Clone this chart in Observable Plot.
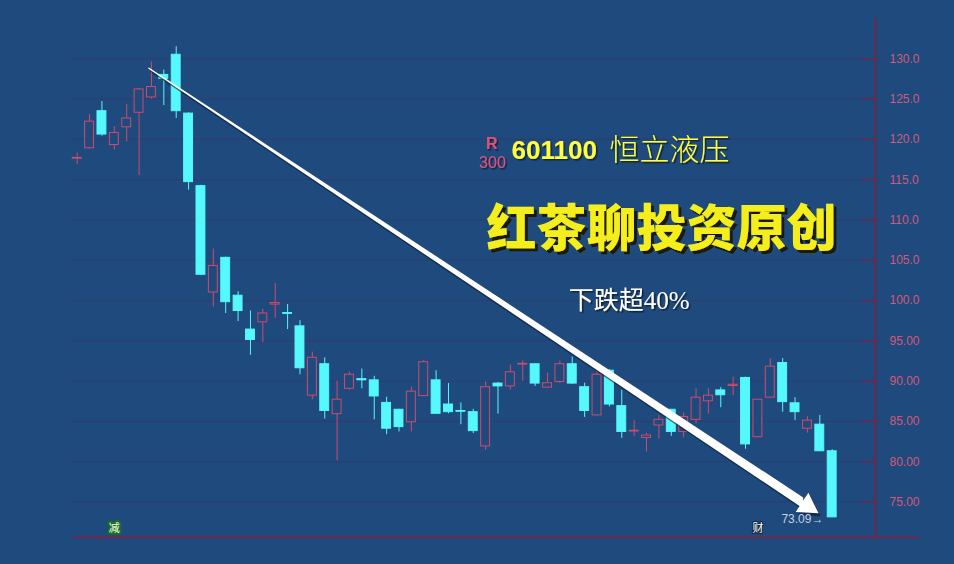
<!DOCTYPE html>
<html><head><meta charset="utf-8">
<script src="https://cdn.jsdelivr.net/npm/d3@7"></script>
<script src="https://cdn.jsdelivr.net/npm/@observablehq/plot@0.6"></script>
<style>
html,body{margin:0;padding:0;background:#1e4a7d;overflow:hidden;}
</style></head><body><div id="chart"></div>
<script>
// ---- data (daily candles, 601100 恒立液压) ----
const opens  = [117.6,118.9,123.5,119.3,121.5,123.3,125.2,128.0,130.5,123.2,114.2,101.0,105.3,100.6,96.4,97.3,99.5,98.45,96.8,88.2,92.1,85.9,89.05,90.25,90.1,87.3,86.45,84.9,88.15,90.1,87.1,86.3,86.15,81.9,89.7,89.35,92.05,92.1,89.2,89.9,92.1,89.25,85.75,91.3,86.9,83.75,82.95,84.5,86.45,83.7,85.2,87.5,88.85,89.4,90.4,83.05,87.95,92.25,87.25,84.1,84.6,81.3];
const highs  = [118.3,123.1,124.7,121.6,124.3,126.3,129.6,128.6,131.5,123.3,114.3,106.4,105.4,101.1,98.7,98.9,102.1,99.5,97.5,93.6,92.9,90.0,91.1,91.5,90.6,88.0,86.5,89.25,92.6,91.3,89.7,87.3,86.5,89.9,89.85,92.0,92.5,92.15,91.0,92.5,93.0,89.75,91.25,91.4,88.85,85.1,83.55,85.75,86.5,86.05,89.05,89.05,89.2,90.5,90.5,87.7,92.8,92.8,87.95,85.6,85.75,81.5];
const lows   = [116.9,118.8,120.4,118.7,119.7,115.5,125.0,124.2,122.6,113.7,103.1,99.2,98.4,97.4,93.2,94.8,97.8,96.4,90.8,87.7,85.3,80.1,88.9,89.05,85.2,83.35,83.7,83.7,88.1,85.9,85.95,84.6,83.5,81.4,85.9,88.9,90.0,89.35,89.15,89.7,89.6,85.5,85.7,86.8,82.9,83.1,81.2,82.85,83.15,82.95,84.7,85.9,86.7,88.2,81.55,83.0,87.9,86.15,85.1,83.55,81.3,73.09];
const closes = [117.7,122.2,120.6,120.8,122.6,126.2,126.5,127.5,123.5,114.7,103.2,104.3,99.8,98.7,95.1,98.4,99.7,98.35,91.6,92.9,86.3,87.7,90.8,90.1,88.1,84.1,84.3,88.7,92.35,85.95,86.15,86.2,83.8,89.25,89.35,91.1,92.15,89.7,89.75,92.1,89.7,86.3,90.8,87.1,83.7,83.85,83.25,85.2,83.7,85.55,87.95,88.2,88.25,89.55,82.15,87.7,91.8,87.4,86.15,85.1,81.3,73.1];
const yTicks = [75,80,85,90,95,100,105,110,115,120,125,130];
const markerIdx = [3,55];
const markerLabels = ["减","财"];
const lastLowLabel = "73.09→";
const stockCode = "601100";
const stockName = "恒立液压";
const badgeTop = "R";
const badgeBottom = "300";
const brand = "红茶聊投资原创";
const note = "下跌超40%";
// arrow from the top (candle 6 high area) to the last low
const arrowFrom = {i: 5.8, p: 128.8};
const arrowTo   = {i: 59.9, p: 73.6};

// ---- layout / style ----
const W = 954, H = 564;
const mL = 70.5, mR = 79, mT = 18, mB = 27;
const xDomain = [-0.5, 64.5], yDomain = [70.6, 135];
const BG = "#1e4a7d", RED = "#d24a6c", CYAN = "#55f8fb", AXIS = "#6e2850";

const candles = opens.map((o, i) => ({i, o, h: highs[i], l: lows[i], c: closes[i], up: closes[i] > o}));
const upC = candles.filter(d => d.up), downC = candles.filter(d => !d.up);

// arrow geometry in data units
const kx = (W - mL - mR) / (xDomain[1] - xDomain[0]);
const ky = (H - mT - mB) / (yDomain[1] - yDomain[0]);
const dxPx = (arrowTo.i - arrowFrom.i) * kx, dyPx = (arrowFrom.p - arrowTo.p) * ky;
const ang = Math.atan2(dyPx, dxPx);
const headR = 8.5, tipOff = headR * 2 * 0.7776, headLen = headR * 3 * 0.7776;
const baseI = arrowTo.i - (headLen - 2) * Math.cos(ang) / kx;
const baseP = arrowTo.p + (headLen - 2) * Math.sin(ang) / ky;
const vt = 4.6 / Math.cos(ang) / ky, vt0 = 0.7 / Math.cos(ang) / ky;
const wedge = [
  {i: arrowFrom.i, lo: arrowFrom.p - vt0, hi: arrowFrom.p + vt0},
  {i: baseI, lo: baseP - vt, hi: baseP + vt}
];
const head = [{i: arrowTo.i - tipOff * Math.cos(ang) / kx, p: arrowTo.p + tipOff * Math.sin(ang) / ky}];
const rot = 90 + ang * 180 / Math.PI;

const fmt = d => d >= 100 ? d.toFixed(1) : d.toFixed(2);

const chart = Plot.plot({
  width: W, height: H,
  marginLeft: mL, marginRight: mR, marginTop: mT, marginBottom: mB,
  x: {domain: xDomain, axis: null},
  y: {domain: yDomain, axis: null},
  style: {background: BG, fontFamily: "Liberation Sans, 'Noto Sans CJK SC', sans-serif", overflow: "visible"},
  marks: [
    Plot.gridY(yTicks, {stroke: "#4a2d5e", strokeOpacity: 0.45, strokeWidth: 1}),
    Plot.ruleY(yTicks, {y: d => d, x1: xDomain[1] - 1.1, x2: xDomain[1] + 0.2, stroke: AXIS, strokeWidth: 1.5}),
    Plot.ruleX([xDomain[1]], {stroke: AXIS, strokeWidth: 2}),
    Plot.ruleY([yDomain[0]], {x1: -0.3, x2: 68.1, stroke: AXIS, strokeWidth: 2}),
    Plot.axisY(yTicks, {anchor: "right", tickSize: 0, tickPadding: 14, textAnchor: "start", tickFormat: fmt, fill: "#d4587a", fontSize: 12}),
    // candles
    Plot.ruleX(upC, {x: "i", y1: "l", y2: "h", stroke: RED, strokeWidth: 1}),
    Plot.ruleX(downC, {x: "i", y1: "l", y2: "h", stroke: CYAN, strokeWidth: 1}),
    Plot.rect(upC, {x1: d => d.i - 0.36, x2: d => d.i + 0.36, y1: "o", y2: "c", fill: BG, stroke: RED, strokeWidth: 1}),
    Plot.rect(downC, {x1: d => d.i - 0.36, x2: d => d.i + 0.36, y1: "o", y2: "c", fill: CYAN, stroke: CYAN, strokeWidth: 1}),
    // arrow with shadow
    Plot.areaY(wedge, {x: "i", y1: "lo", y2: "hi", fill: "#0a1a30", fillOpacity: 0.6, dx: 2, dy: 3}),
    Plot.dot(head, {x: "i", y: "p", symbol: "triangle", r: headR, rotate: rot, fill: "#0a1a30", fillOpacity: 0.6, dx: 2, dy: 3}),
    Plot.areaY(wedge, {x: "i", y1: "lo", y2: "hi", fill: "#ffffff"}),
    Plot.dot(head, {x: "i", y: "p", symbol: "triangle", r: headR, rotate: rot, fill: "#ffffff"}),
    // last low label
    Plot.text([lastLowLabel], {x: 56.9, y: 72.9, text: d => d, textAnchor: "start", fill: "#c6d0e4", fontSize: 12}),
    // event markers
    Plot.text([markerIdx[0]], {x: d => d, frameAnchor: "bottom", dy: -6, text: () => markerLabels[0], fill: "#f0ffe8", stroke: "#1d6e22", strokeWidth: 4, fontSize: 11, fontFamily: "Noto Sans CJK SC"}),
    Plot.text([markerIdx[1]], {x: d => d, frameAnchor: "bottom", dy: -6, text: () => markerLabels[1], fill: "#ffffff", stroke: "#10243c", strokeWidth: 2, fontSize: 11, fontFamily: "Noto Sans CJK SC"}),
    // title badge
    Plot.text([badgeTop], {x: 33.5, y: 119.5, text: d => d, fill: "#e2507a", fontWeight: "bold", fontSize: 16}),
    Plot.text([badgeBottom], {x: 33.55, y: 117.1, text: d => d, fill: "#e2507a", fontSize: 16}),
    Plot.text([stockCode], {x: 35.1, y: 118.6, text: d => d, textAnchor: "start", fill: "#ffff3c", fontWeight: "bold", fontSize: 26}),
    Plot.text([stockName], {x: 43.0, y: 118.6, text: d => d, textAnchor: "start", fill: "#ffff3c", fontSize: 30, fontWeight: 300, fontFamily: "Noto Sans CJK SC"}),
    // brand
    Plot.text([brand], {x: 47.2, y: 108.8, text: d => d, fill: "#f4ee1c", fontSize: 50, fontWeight: 900, fontFamily: "Noto Sans CJK SC"}),
    // note
    Plot.text([note], {x: 44.6, y: 100.0, text: d => d, fill: "#ffffff", fontSize: 25, fontFamily: "Liberation Serif, 'Noto Sans CJK SC', serif"})
  ]
});

// drop shadows for the headline texts (SVG filters)
const svg = d3.select(chart.tagName.toLowerCase() === "svg" ? chart : chart.querySelector("svg"));
const defs = svg.insert("defs", ":first-child");
function addShadow(id, dx, dy, color, op) {
  defs.append("filter").attr("id", id).attr("x", "-10%").attr("y", "-30%").attr("width", "130%").attr("height", "170%")
    .append("feDropShadow").attr("dx", dx).attr("dy", dy).attr("stdDeviation", 0.6)
    .attr("flood-color", color).attr("flood-opacity", op);
}
addShadow("shBig", 3, 3, "#1a1400", 0.95);
addShadow("shSmall", 1.5, 1.5, "#0a1a30", 0.9);
svg.selectAll("text").each(function() {
  const t = this.textContent;
  if (t === brand) d3.select(this).attr("filter", "url(#shBig)");
  else if (t === stockCode || t === stockName || t === badgeBottom || t === badgeTop || t === note) d3.select(this).attr("filter", "url(#shSmall)");
});
document.getElementById("chart").appendChild(chart);
</script>
</body></html>
